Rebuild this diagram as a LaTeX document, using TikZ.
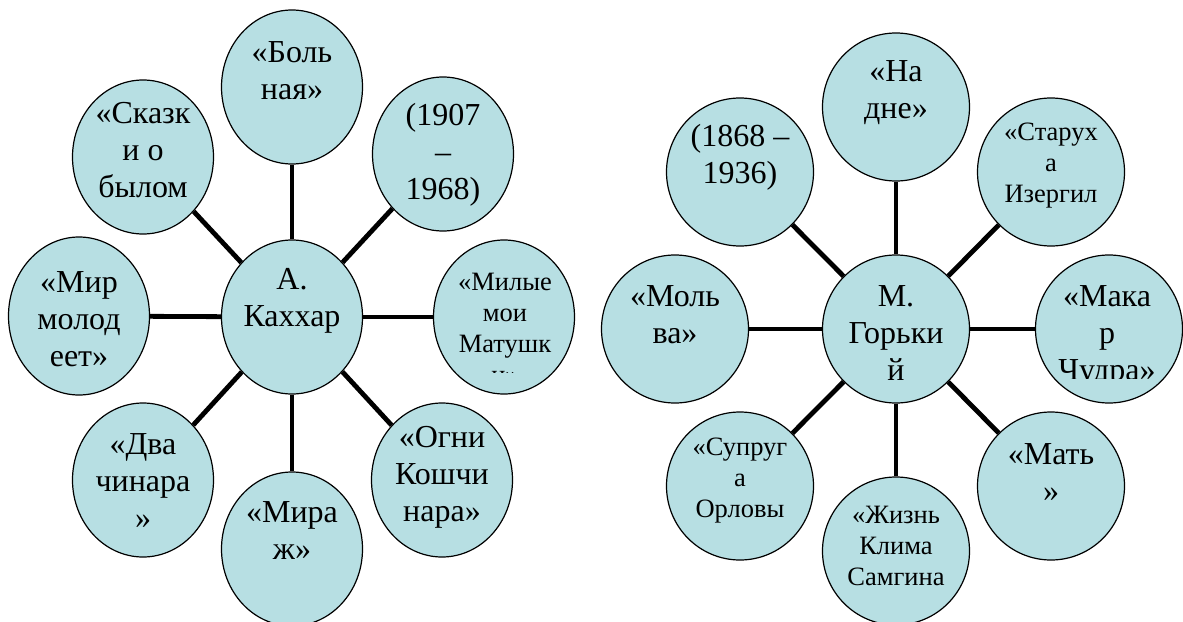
\documentclass[tikz,border=0pt]{standalone}
\usepackage{fontspec}
\setmainfont{Liberation Serif}
\usetikzlibrary{shapes.geometric}
\definecolor{bubble}{RGB}{183,223,227}

\begin{document}
\begin{tikzpicture}[x=1pt,y=-1pt,
	bub/.style={ellipse,draw=black,line width=1.2pt,fill=bubble,inner sep=0pt,minimum width=141pt,minimum height=154pt},
	bubr/.style={bub,minimum width=147pt,minimum height=148pt},
	big/.style={align=center,inner sep=0pt,font=\fontsize{32}{37}\selectfont},
	small/.style={align=center,inner sep=0pt,font=\fontsize{26.5}{31}\selectfont},
	spoke/.style={line width=4.8pt}]
	\useasboundingbox (0,0) rectangle (1183,621);

	% A. Kahhar
	\node[bub] (kahhar) at (292,317) {};
	\node[bub] (bolnaya) at (292,87) {};
	\node[bub] (skazki) at (143,157) {};
	\node[bub] (years1) at (443,154) {};
	\node[bub,minimum height=158pt] (mir) at (79,316) {};
	\node[bub] (milye) at (504,317) {};
	\node[bub] (dva) at (143,480) {};
	\node[bub] (mirazh) at (292,549) {};
	\node[bub] (ogni) at (442,480) {};
	\draw[spoke] (kahhar)--(bolnaya);
	\draw[spoke] (kahhar)--(skazki);
	\draw[spoke] (kahhar)--(years1);
	\draw[spoke] (kahhar)--(mir);
	\draw[spoke] (kahhar)--(milye);
	\draw[spoke] (kahhar)--(dva);
	\draw[spoke] (kahhar)--(mirazh);
	\draw[spoke] (kahhar)--(ogni);
	\node[big] (tkahhar) at (292,301) {А.\\Каххар};
	\node[big] (tbolnaya) at (292,71) {«Боль\\ная»};
	\node[big] (tskazki) at (143,150) {«Сказк\\и о\\былом};
	\node[big] (tyears1) at (443,155) {(1907\\–\\1968)};
	\node[big] (tmir) at (79,319) {«Мир\\молод\\еет»};
	\begin{scope}
		\clip (430,230) rectangle (580,372);
		\node[small] (tmilye) at (505,328) {«Милые\\мои\\Матушк\\и»};
	\end{scope}
	\node[big] (tdva) at (143,481) {«Два\\чинара\\»};
	\node[big] (tmirazh) at (292,531) {«Мира\\ж»};
	\node[big] (togni) at (442,477) {«Огни\\Кошчи\\нара»};

	% M. Gorky
	\node[bubr] (gorky) at (896,329) {};
	\node[bubr] (nadne) at (896,107) {};
	\node[bubr] (years2) at (740,172) {};
	\node[bubr] (staruha) at (1051,172) {};
	\node[bubr] (molva) at (675,329) {};
	\node[bubr] (makar) at (1109,329) {};
	\node[bubr] (supruga) at (740,486) {};
	\node[bubr] (zhizn) at (896,551) {};
	\node[bubr] (mat) at (1051,486) {};
	\draw[spoke] (gorky)--(nadne);
	\draw[spoke] (gorky)--(years2);
	\draw[spoke] (gorky)--(staruha);
	\draw[spoke] (gorky)--(molva);
	\draw[spoke] (gorky)--(makar);
	\draw[spoke] (gorky)--(supruga);
	\draw[spoke] (gorky)--(zhizn);
	\draw[spoke] (gorky)--(mat);
	\node[big] (tgorky) at (896,333) {М.\\Горьки\\й};
	\node[big] (tnadne) at (896,93) {«На\\дне»};
	\node[big] (tyears2) at (740,157) {(1868 –\\1936)};
	\node[small] (tstaruha) at (1051,166) {«Старух\\а\\Изергил};
	\node[big] (tmolva) at (675,315) {«Моль\\ва»};
	\begin{scope}
		\clip (1030,240) rectangle (1183,378);
		\node[big] (tmakar) at (1107,336) {«Мака\\р\\Чудра»};
	\end{scope}
	\node[small] (tsupruga) at (740,481) {«Супруг\\а\\Орловы};
	\node[small] (tzhizn) at (896,546) {«Жизнь\\Клима\\Самгина};
	\node[big] (tmat) at (1051,473) {«Мать\\»};

\end{tikzpicture}
\end{document}
